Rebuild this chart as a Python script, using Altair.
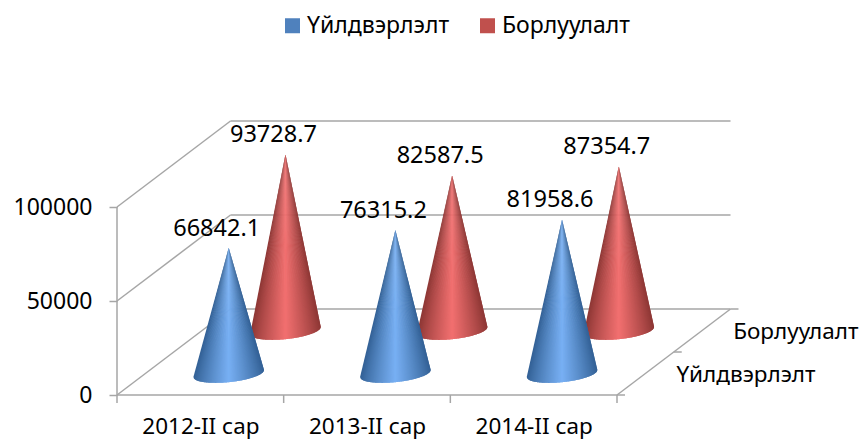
import math
import altair as alt
import pandas as pd

# ---- values
categories = ["2012-II сар", "2013-II сар", "2014-II сар"]
series = ["Үйлдвэрлэлт", "Борлуулалт"]
production = [66842.1, 76315.2, 81958.6]
sales = [93728.7, 82587.5, 87354.7]
y_ticks = [0, 50000, 100000]

# ---- oblique projection (category, value, depth) -> scale units
W, H = 623, 275
PX_PER_CAT = 500 / 3
PX_PER_VAL = 94 / 50000
X_MAX = W / PX_PER_CAT
Y_MAX = H / PX_PER_VAL
DX = 56.75 / PX_PER_CAT   # per depth unit
DY = 43 / PX_PER_VAL


def proj(cat, val, depth):
    return cat + depth * DX, val + depth * DY


def px(dx_px, dy_px):
    return dx_px / PX_PER_CAT, -dy_px / PX_PER_VAL


def lerp(a, b, f):
    return tuple(a[i] + (b[i] - a[i]) * f for i in range(3))


def hexc(c):
    return "#%02x%02x%02x" % tuple(int(round(v)) for v in c)


SHADES = {
    0: ((50, 96, 148), (120, 176, 244)),
    1: ((140, 54, 52), (242, 112, 112)),
}
A, S, B = 35.3, -3.5, 8.7
N = 70


def base_point(u):
    return px(A * u, S * u + B * math.sqrt(max(0.0, 1 - u * u)))


def cone_rows(sidx, vals):
    rows = []
    for c, v in enumerate(vals):
        depth = sidx + 0.5
        bx, by = proj(c + 0.5, 0, depth)
        apex = proj(c + 0.5, v, depth)
        for k in range(N):
            u0 = -1 + 2 * k / N
            u1 = min(1.0, -1 + 2 * (k + 2) / N)   # overlaps the next wedge, which paints over it
            um = -1 + 2 * (k + 0.5) / N
            f = (1 - min(abs(um), 1)) ** 0.85
            col = hexc(lerp(SHADES[sidx][0], SHADES[sidx][1], f))
            pts = [apex]
            steps = 4
            for j in range(steps + 1):
                u = u0 + (u1 - u0) * j / steps
                ox, oy = base_point(u)
                pts.append((bx + ox, by + oy))
            pts.append(apex)
            for i, (x, y) in enumerate(pts):
                rows.append(dict(x=x, y=y, i=i, wedge=f"{sidx}-{c}-{k:03d}", col=col))
    return rows


scale_x = alt.Scale(domain=[0, X_MAX], nice=False, zero=False)
scale_y = alt.Scale(domain=[0, Y_MAX], nice=False, zero=False)
X = alt.X("x:Q", scale=scale_x, title=None,
          axis=alt.Axis(values=[0.5, 1.5, 2.5], ticks=False, domain=False, grid=False,
                        labelExpr="%s[datum.value-0.5]" % str(categories),
                        labelFont="Noto Sans", labelFontSize=22.5, labelColor="#000000",
                        labelPadding=20, labelFlush=False, labelOverlap=False))
Y = alt.Y("y:Q", scale=scale_y, title=None,
          axis=alt.Axis(values=y_ticks, domain=False, grid=False, tickSize=8, tickColor="#a6a6a6",
                        tickWidth=1.5, format="d", labelFont="Noto Sans", labelFontSize=23,
                        labelColor="#000000", labelPadding=17))


def cone_layer(sidx, vals):
    d = pd.DataFrame(cone_rows(sidx, vals))
    return alt.Chart(d).mark_line(strokeWidth=0).encode(
        x=X, y=Y, detail="wedge:N", order="i:Q",
        fill=alt.Fill("col:N", scale=None))


# ---- wireframe of the box
segs = []


def seg(a, b):
    n = len(segs)
    segs.append(dict(x=a[0], y=a[1], i=0, s=n))
    segs.append(dict(x=b[0], y=b[1], i=1, s=n))


for v in y_ticks:
    seg(proj(0, v, 0), proj(0, v, 2))
    seg(proj(0, v, 2), proj(3, v, 2))
seg(proj(0, 0, 0), proj(0, y_ticks[-1], 0))
seg(proj(0, 0, 0), proj(3, 0, 0))
seg(proj(3, 0, 0), proj(3, 0, 2))
for c in range(4):
    p = proj(c, 0, 0)
    o = px(0, 8)
    seg(p, (p[0] + o[0], p[1] + o[1]))
for d in (0, 1, 2):
    p = proj(3, 0, d)
    o = px(8, 0)
    seg(p, (p[0] + o[0], p[1] + o[1]))
wire = alt.Chart(pd.DataFrame(segs)).mark_line(color="#a6a6a6", strokeWidth=1.5).encode(
    x=X, y=Y, detail="s:N", order="i:Q")

# ---- data labels
lab_rows = []
for sidx, vals in enumerate([production, sales]):
    for c, v in enumerate(vals):
        x, y = proj(c + 0.5, v, sidx + 0.5)
        lab_rows.append(dict(x=x, y=y, t=f"{v:.1f}", series=series[sidx]))
labels_df = pd.DataFrame(lab_rows)
labels = alt.Chart(labels_df).mark_text(
    font="Noto Sans", fontSize=23.5, color="#000000", dx=-12, dy=-19, baseline="middle", align="center"
).encode(x=X, y=Y, text="t:N")

# ---- depth axis labels
depth_rows = []
for sidx, name in enumerate(series):
    x, y = proj(3, 0, sidx + 0.5)
    depth_rows.append(dict(x=x, y=y, t=name))
depth_labels = alt.Chart(pd.DataFrame(depth_rows)).mark_text(
    font="Noto Sans", fontSize=22.5, color="#000000", dx=31, dy=1, baseline="middle", align="left"
).encode(x=X, y=Y, text="t:N")

# ---- legend carrier
legend_layer = alt.Chart(labels_df).mark_square(size=0, opacity=1).encode(
    x=X, y=Y,
    color=alt.Color("series:N", title=None,
                    scale=alt.Scale(domain=series, range=["#4f81bd", "#c0504d"]),
                    legend=alt.Legend(orient="none", legendX=164, legendY=-106, direction="horizontal",
                                      symbolType="square", symbolSize=225, symbolOpacity=1,
                                      symbolStrokeWidth=0, labelFont="Noto Sans", labelFontSize=23,
                                      labelColor="#000000", columnPadding=26, labelOffset=3,
                                      labelLimit=300)))

chart = alt.layer(wire, cone_layer(1, sales), cone_layer(0, production), labels, depth_labels,
                  legend_layer).properties(
    width=W, height=H,
    autosize=alt.AutoSizeParams(type="none"),
    padding={"left": 109, "top": 112, "right": 119, "bottom": 45},
).configure_view(stroke=None)

chart.save("out.html", embed_options={"renderer": "svg", "actions": False})
